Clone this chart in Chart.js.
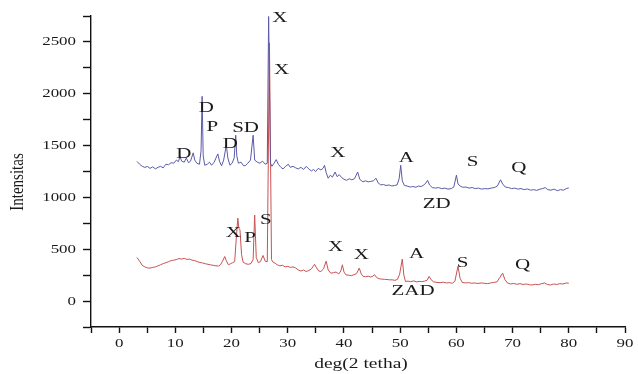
<!DOCTYPE html>
<html>
<head>
<meta charset="utf-8">
<script src="https://cdn.jsdelivr.net/npm/chart.js@4.4.1/dist/chart.umd.min.js"></script>
<style>
  html, body { margin: 0; padding: 0; background: #ffffff; }
  #wrap { width: 638px; height: 374px; }
</style>
</head>
<body>
<div id="wrap"><canvas id="xrdChart" width="638" height="374"></canvas></div>
<script>
// XRD patterns: ZD (upper, blue) and ZAD (lower, red)

const zdDeg = [3.18, 3.65, 4.11, 4.58, 5.05, 5.51, 5.98, 6.45, 6.92, 7.38, 7.85, 8.32, 8.79, 9.25, 9.72, 10.19, 10.56, 10.84, 11.12, 11.59,
	11.96, 12.34, 12.71, 13.18, 13.46, 13.83, 14.30, 14.58, 14.77, 14.96, 15.24, 15.70, 16.08, 16.45, 16.92, 17.39, 17.57, 17.85, 18.23, 18.60,
	19.07, 19.35, 19.72, 20.10, 20.47, 20.75, 20.94, 21.22, 21.69, 22.06, 22.43, 22.90, 23.37, 23.84, 24.12, 24.58, 25.05, 25.52, 25.99, 26.36,
	26.60, 26.92, 27.20, 27.57, 27.95, 28.32, 28.79, 29.16, 29.63, 30.10, 30.47, 30.94, 31.41, 31.87, 32.34, 32.81, 33.28, 33.74, 34.21, 34.58,
	34.96, 35.43, 35.89, 36.27, 36.55, 36.83, 37.20, 37.58, 37.95, 38.42, 38.79, 39.16, 39.63, 40.01, 40.47, 40.94, 41.41, 41.87, 42.44, 42.81,
	43.37, 43.84, 44.31, 44.77, 45.24, 45.71, 46.08, 46.55, 47.02, 47.48, 48.04, 48.51, 48.98, 49.45, 49.82, 50.10, 50.38, 50.75, 51.22, 51.78,
	52.25, 52.81, 53.28, 53.75, 54.21, 54.59, 54.87, 55.24, 55.71, 56.27, 56.83, 57.39, 57.95, 58.51, 59.07, 59.54, 60.01, 60.29, 60.66, 61.13,
	61.69, 62.25, 62.81, 63.37, 63.93, 64.49, 65.06, 65.62, 66.18, 66.74, 67.30, 67.86, 68.23, 68.70, 69.26, 69.82, 70.38, 70.94, 71.50, 72.07,
	72.63, 73.19, 73.75, 74.31, 74.87, 75.34, 75.80, 76.27, 76.83, 77.39, 77.95, 78.52, 79.08, 79.54, 80.0];
const zdInt = [1347, 1320, 1300, 1290, 1298, 1280, 1295, 1275, 1290, 1300, 1285, 1320, 1315, 1335, 1330, 1360, 1345, 1395, 1350, 1340,
	1380, 1335, 1350, 1430, 1360, 1330, 1320, 1450, 1975, 1400, 1310, 1320, 1340, 1310, 1340, 1400, 1420, 1350, 1305, 1360,
	1505, 1380, 1310, 1330, 1380, 1600, 1400, 1330, 1340, 1310, 1305, 1330, 1360, 1600, 1360, 1340, 1330, 1350, 1320, 1330,
	2745, 1330, 1300, 1330, 1365, 1320, 1290, 1275, 1300, 1320, 1290, 1300, 1285, 1275, 1290, 1270, 1300, 1275, 1255, 1270,
	1250, 1280, 1265, 1280, 1310, 1240, 1185, 1215, 1195, 1245, 1200, 1220, 1190, 1175, 1165, 1180, 1170, 1180, 1245, 1175,
	1150, 1160, 1150, 1155, 1160, 1185, 1140, 1120, 1125, 1115, 1120, 1110, 1115, 1120, 1180, 1310, 1160, 1115, 1110, 1100,
	1105, 1098, 1110, 1105, 1120, 1140, 1165, 1120, 1095, 1090, 1095, 1085, 1090, 1080, 1085, 1100, 1215, 1130, 1110, 1098,
	1100, 1090, 1095, 1085, 1090, 1080, 1085, 1082, 1090, 1095, 1110, 1170, 1130, 1100, 1095, 1085, 1090, 1080, 1085, 1075,
	1082, 1070, 1075, 1068, 1080, 1085, 1095, 1075, 1070, 1080, 1065, 1075, 1070, 1085, 1092];

const zadDeg = [3.18, 3.65, 4.11, 4.58, 5.05, 5.51, 5.98, 6.45, 6.92, 7.38, 7.85, 8.32, 8.79, 9.25, 9.72, 10.19, 10.66, 11.12, 11.59, 12.06,
	12.52, 12.99, 13.46, 13.93, 14.39, 14.86, 15.33, 15.80, 16.26, 16.73, 17.20, 17.67, 18.04, 18.41, 18.79, 19.07, 19.44, 19.82, 20.19, 20.56,
	20.84, 21.12, 21.31, 21.50, 21.78, 22.06, 22.53, 22.99, 23.46, 23.84, 24.12, 24.40, 24.77, 25.14, 25.61, 25.99, 26.36, 26.75, 27.11, 27.39,
	27.76, 28.13, 28.60, 29.07, 29.54, 30.00, 30.47, 30.94, 31.41, 31.87, 32.34, 32.81, 33.28, 33.74, 34.21, 34.77, 35.14, 35.52, 35.89, 36.36,
	36.83, 37.20, 37.67, 38.14, 38.60, 39.07, 39.44, 39.72, 40.01, 40.38, 40.85, 41.31, 41.78, 42.25, 42.72, 43.09, 43.37, 43.84, 44.31, 44.77,
	45.15, 45.43, 45.80, 46.27, 46.73, 47.20, 47.67, 48.14, 48.60, 49.07, 49.54, 49.91, 50.38, 50.66, 50.94, 51.41, 51.88, 52.44, 52.90, 53.37,
	53.84, 54.31, 54.77, 55.15, 55.52, 55.99, 56.55, 57.11, 57.67, 58.23, 58.79, 59.26, 59.73, 60.29, 60.66, 61.04, 61.60, 62.16, 62.72, 63.28,
	63.84, 64.40, 64.96, 65.52, 66.08, 66.64, 67.21, 67.77, 68.23, 68.61, 69.07, 69.64, 70.20, 70.76, 71.32, 71.88, 72.44, 73.00, 73.47, 74.03,
	74.59, 75.15, 75.71, 76.18, 76.74, 77.30, 77.86, 78.42, 78.98, 79.54, 80.0];
const zadInt = [420, 385, 345, 330, 320, 318, 325, 330, 340, 350, 362, 370, 380, 390, 395, 400, 410, 405, 412, 402,
	405, 395, 390, 380, 372, 368, 360, 355, 350, 345, 340, 338, 350, 385, 430, 390, 350, 360, 370, 380,
	600, 800, 700, 690, 450, 375, 360, 355, 362, 400, 830, 420, 370, 380, 440, 385, 380, 2490, 400, 375,
	365, 350, 340, 345, 330, 335, 325, 330, 320, 300, 290, 300, 285, 295, 310, 355, 320, 290, 285, 310,
	385, 300, 268, 275, 280, 262, 290, 350, 280, 252, 250, 245, 255, 265, 318, 260, 240, 235, 240, 232,
	240, 255, 228, 215, 212, 210, 208, 205, 205, 200, 210, 260, 405, 250, 190, 192, 188, 195, 185, 190,
	188, 192, 200, 238, 205, 185, 180, 178, 182, 175, 178, 172, 190, 335, 220, 180, 175, 178, 172, 175,
	170, 175, 172, 168, 175, 180, 185, 230, 270, 210, 175, 165, 170, 162, 168, 160, 165, 158, 155, 162,
	158, 168, 175, 160, 155, 165, 160, 168, 165, 175, 172];

// Phase marks (text, 2theta, intensity where the letter sits)
const zdTags = ["X", "X", "D", "P", "D", "SD", "D", "X", "A", "S", "Q", "ZD"];
const zdTagDeg = [28.6, 28.9, 15.5, 16.6, 19.8, 22.5, 11.5, 38.9, 51.1, 62.9, 71.1, 56.5];
const zdTagInt = [2728, 2229, 1860, 1682, 1515, 1667, 1419, 1426, 1377, 1344, 1281, 936];

const zadTags = ["X", "P", "S", "X", "X", "A", "S", "Q", "ZAD"];
const zadTagDeg = [20.3, 23.3, 26.1, 38.5, 43.1, 52.9, 61.1, 71.8, 52.3];
const zadTagInt = [654, 606, 782, 525, 445, 454, 370, 348, 100];

const xTitle = "deg(2 tetha)";
const yTitle = "Intensitas";

const serif = "'Liberation Serif', 'Times New Roman', serif";
const inkColor = "#1a1a1a";

function toPoints(xs, ys) {
	return xs.map((x, i) => ({ x: x, y: ys[i] }));
}

// the source picture is stretched sideways, so text is widened a bit
function wideText(ctx, text, x, y, stretch, align) {
	ctx.save();
	ctx.translate(x, y);
	ctx.scale(stretch, 1);
	ctx.textAlign = align;
	ctx.fillText(text, 0, 0);
	ctx.restore();
}

// axis labels, axis titles and phase letters
const chartText = {
	id: "chartText",
	afterDraw(chart) {
		const { ctx, scales, chartArea } = chart;
		ctx.save();
		ctx.fillStyle = inkColor;
		ctx.textBaseline = "middle";

		// tick labels
		ctx.font = "13px " + serif;
		scales.y.ticks.forEach((t) => {
			if (t.value < 0 || t.value % 500 !== 0) return;
			const py = scales.y.getPixelForValue(t.value);
			wideText(ctx, String(t.value), chartArea.left - 15, py, 1.3, "right");
		});
		scales.x.ticks.forEach((t) => {
			if (t.value % 10 !== 0) return;
			const px = scales.x.getPixelForValue(t.value);
			wideText(ctx, String(t.value), px, chartArea.bottom + 17, 1.3, "center");
		});

		// axis titles
		ctx.font = "15px " + serif;
		wideText(ctx, xTitle, (chartArea.left + chartArea.right) / 2 + 3, chartArea.bottom + 37, 1.3, "center");
		ctx.save();
		ctx.translate(18, chartArea.top + 166);
		ctx.rotate(-Math.PI / 2);
		ctx.scale(1, 1.3);
		ctx.textAlign = "center";
		ctx.fillText(yTitle, 0, 0);
		ctx.restore();

		// phase letters
		ctx.font = "15px " + serif;
		const groups = [
			[zdTags, zdTagDeg, zdTagInt],
			[zadTags, zadTagDeg, zadTagInt],
		];
		groups.forEach(([tags, xs, ys]) => {
			tags.forEach((t, i) => {
				const px = scales.x.getPixelForValue(xs[i]);
				const py = scales.y.getPixelForValue(ys[i]);
				wideText(ctx, t, px, py, 1.4, "center");
			});
		});
		ctx.restore();
	},
};

new Chart(document.getElementById("xrdChart"), {
	type: "line",
	data: {
		datasets: [
			{
				label: "ZD",
				data: toPoints(zdDeg, zdInt),
				borderColor: "#5a5aa8",
				borderWidth: 1,
				pointRadius: 0,
				tension: 0,
			},
			{
				label: "ZAD",
				data: toPoints(zadDeg, zadInt),
				borderColor: "#c85252",
				borderWidth: 1,
				pointRadius: 0,
				tension: 0,
			},
		],
	},
	options: {
		responsive: false,
		animation: false,
		layout: { padding: { top: 16, right: 13, left: 0, bottom: 0 } },
		plugins: {
			legend: { display: false },
			tooltip: { enabled: false },
		},
		scales: {
			x: {
				type: "linear",
				min: -5,
				max: 90,
				border: { color: "#111", width: 1.4 },
				grid: { drawOnChartArea: false, tickLength: 6, color: "#111", tickWidth: 1.4 },
				ticks: { display: false, stepSize: 5, autoSkip: false },
				afterFit(scale) {
					scale.height = 47;
				},
			},
			y: {
				type: "linear",
				min: -250,
				max: 2750,
				border: { color: "#111", width: 1.4 },
				grid: { drawOnChartArea: false, tickLength: 8, color: "#111", tickWidth: 1.4 },
				ticks: { display: false, stepSize: 250, autoSkip: false },
				afterFit(scale) {
					scale.width = 91;
				},
			},
		},
	},
	plugins: [chartText],
});
</script>
</body>
</html>
